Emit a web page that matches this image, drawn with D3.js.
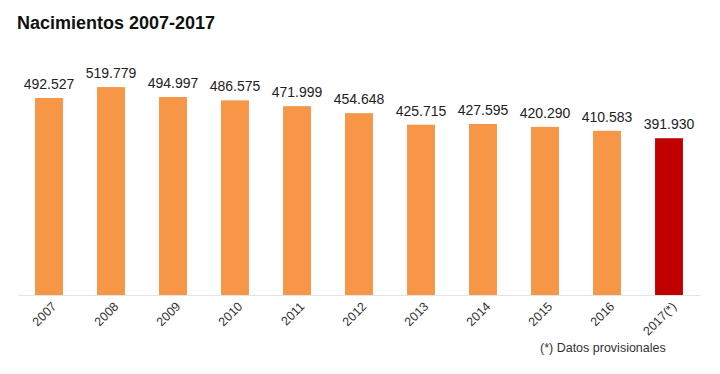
<!DOCTYPE html>
<html>
<head>
<meta charset="utf-8">
<style>
  body { margin: 0; background: #fff; }
  svg { display: block; font-family: "Liberation Sans", Arial, sans-serif; }
  .domain { stroke: #e3e3e3; }
</style>
</head>
<body>
<svg width="720" height="374"></svg>
<script src="https://cdn.jsdelivr.net/npm/d3@7"></script>
<script>

var years = ["2007", "2008", "2009", "2010", "2011", "2012", "2013", "2014", "2015", "2016", "2017(*)"];
var births = [492527, 519779, 494997, 486575, 471999, 454648, 425715, 427595, 420290, 410583, 391930];
var labels = ["492.527", "519.779", "494.997", "486.575", "471.999", "454.648", "425.715", "427.595", "420.290", "410.583", "391.930"];

var data = years.map(function(y, i) { return { year: y, value: births[i], label: labels[i] }; });

var svg = d3.select("svg");

var x = d3.scaleBand()
    .domain(years)
    .range([18, 700])
    .paddingInner(0.55)
    .paddingOuter(0.275);

var y = d3.scaleLinear()
    .domain([0, 600000])
    .range([295, 55]);

svg.append("text")
    .attr("x", 17)
    .attr("y", 29)
    .attr("font-size", 18)
    .attr("font-weight", "bold")
    .attr("fill", "#111")
    .text("Nacimientos 2007-2017");

svg.selectAll(".bar")
    .data(data)
  .enter().append("rect")
    .attr("class", "bar")
    .attr("x", function(d) { return x(d.year); })
    .attr("y", function(d) { return y(d.value); })
    .attr("width", x.bandwidth())
    .attr("height", function(d) { return y(0) - y(d.value); })
    .attr("fill", function(d, i) { return i == data.length - 1 ? "#c00000" : "#f79646"; });

svg.selectAll(".val")
    .data(data)
  .enter().append("text")
    .attr("class", "val")
    .attr("x", function(d) { return x(d.year) + x.bandwidth() / 2; })
    .attr("y", function(d) { return y(d.value) - 9; })
    .attr("text-anchor", "middle")
    .attr("font-size", 14)
    .attr("fill", "#222")
    .text(function(d) { return d.label; });

var axis = svg.append("g")
    .attr("transform", "translate(0," + y(0) + ")")
    .call(d3.axisBottom(x).tickSize(0).tickSizeOuter(0));

axis.selectAll("text")
    .attr("font-size", 12.5)
    .attr("font-family", "Liberation Sans, Arial, sans-serif")
    .attr("fill", "#333")
    .attr("text-anchor", "end")
    .attr("transform", "translate(1,5) rotate(-45)")
    .attr("dy", "0.5em")
    .attr("y", 4);

svg.append("text")
    .attr("x", 540)
    .attr("y", 352)
    .attr("font-size", 12.5)
    .attr("fill", "#333")
    .text("(*) Datos provisionales");

</script>
</body>
</html>
